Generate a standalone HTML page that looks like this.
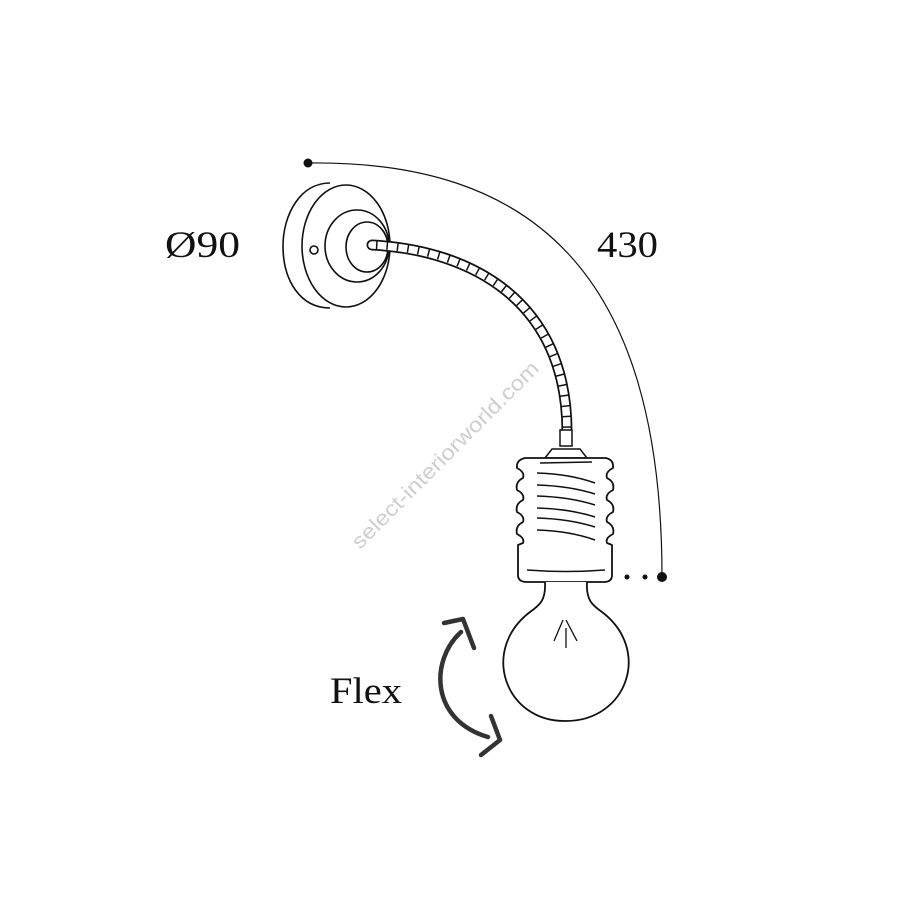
<!DOCTYPE html>
<html><head><meta charset="utf-8"><style>
html,body{margin:0;padding:0;background:#fff;}
svg{display:block}
text{font-family:"Liberation Serif",serif;fill:#111}
</style></head><body>
<svg width="900" height="900" viewBox="0 0 900 900" xmlns="http://www.w3.org/2000/svg">
<rect width="900" height="900" fill="#fff"/>
<!-- watermark -->
<text x="0" y="0" transform="translate(360,550) rotate(-45)" font-size="21" style="font-family:'Liberation Sans',sans-serif;fill:#cfcfcf" textLength="255" lengthAdjust="spacingAndGlyphs">select-interiorworld.com</text>
<!-- dimension line -->
<path d="M308,163 C530,160 662,270 662,577" fill="none" stroke="#111" stroke-width="1.2"/>
<circle cx="308" cy="163" r="4.5" fill="#111"/>
<circle cx="662" cy="577" r="5" fill="#111"/>
<circle cx="645" cy="577" r="2.5" fill="#111"/>
<circle cx="627" cy="577" r="2.5" fill="#111"/>
<!-- wall plate -->
<g fill="none" stroke="#111" stroke-width="1.6">
<path d="M330,183 C300,183 283,215 283,246 C283,280 300,308 330,308" fill="#fff"/>
<ellipse cx="346" cy="246" rx="44" ry="61" fill="#fff"/>
<ellipse cx="357" cy="246" rx="32" ry="36"/>
<ellipse cx="367" cy="247" rx="21" ry="25"/>
<circle cx="314" cy="250" r="4"/>
</g>
<!-- cable -->
<path d="M372,245 C470,250 567,300 567,432" fill="none" stroke="#111" stroke-width="11" stroke-linecap="round"/>
<path d="M372,245 C470,250 567,300 567,432" fill="none" stroke="#fff" stroke-width="7.5" stroke-linecap="round"/>
<path d="M376,245 C470,250 567,300 567,432" fill="none" stroke="#111" stroke-width="8" stroke-dasharray="1.5 9"/>
<!-- stem -->
<rect x="560" y="430" width="12" height="16" fill="#fff" stroke="#111" stroke-width="1.5"/>
<path d="M545,458 L552,449 L580,449 L587,458 Z" fill="#fff" stroke="#111" stroke-width="1.5"/>
<!-- socket -->
<g fill="#fff" stroke="#111" stroke-width="1.8" stroke-linejoin="round">
<path d="M525,458 L606,458 Q614,460 613,468 Q605,472 607,478 Q615,482 613,490 Q605,494 607,500 Q615,504 613,512 Q605,516 607,522 Q615,526 613,534 Q605,538 607,543 L612,545 L612,575 Q612,582 604,582 L527,582 Q518,582 518,575 L518,545 L523,543 Q525,538 517,534 Q515,526 523,522 Q525,516 517,512 Q515,504 523,500 Q525,494 517,490 Q515,482 523,478 Q525,472 517,468 Q516,460 525,458 Z"/>
</g>
<g fill="none" stroke="#111" stroke-width="1.6">
<path d="M540,463 L592,462"/>
<path d="M537,473 Q570,474 595,483"/>
<path d="M537,485 Q570,486 595,494"/>
<path d="M537,496 Q570,497 595,505"/>
<path d="M537,508 Q570,509 595,517"/>
<path d="M537,518 Q570,519 595,527"/>
<path d="M537,530 Q570,531 595,540"/>
<path d="M527,570 Q566,573 605,570"/>
</g>
<!-- bulb -->
<path d="M545,582 C546,600 540,605 530,612 C480,650 505,722 566,721 C627,721 652,650 602,612 C592,605 586,600 587,582" fill="#fff" stroke="#111" stroke-width="1.8"/>
<g stroke="#111" stroke-width="1.3" fill="none">
<path d="M563,620 L554,641"/><path d="M566,620 L577,641"/><path d="M566,628 L566,648"/>
</g>
<!-- flex arrows -->
<g fill="none" stroke="#333" stroke-width="4.5" stroke-linecap="round" stroke-linejoin="round">
<path d="M461,632 C430,660 430,720 488,737"/>
<path d="M444,623 L463,619 L474,648"/>
<path d="M491,716 L500,740 L481,755"/>
</g>
<!-- labels -->
<text x="165" y="257" font-size="37" textLength="75" lengthAdjust="spacingAndGlyphs">Ø90</text>
<text x="597" y="257" font-size="37" textLength="61" lengthAdjust="spacingAndGlyphs">430</text>
<text x="330" y="703" font-size="37" textLength="72" lengthAdjust="spacingAndGlyphs">Flex</text>
</svg>
</body></html>
